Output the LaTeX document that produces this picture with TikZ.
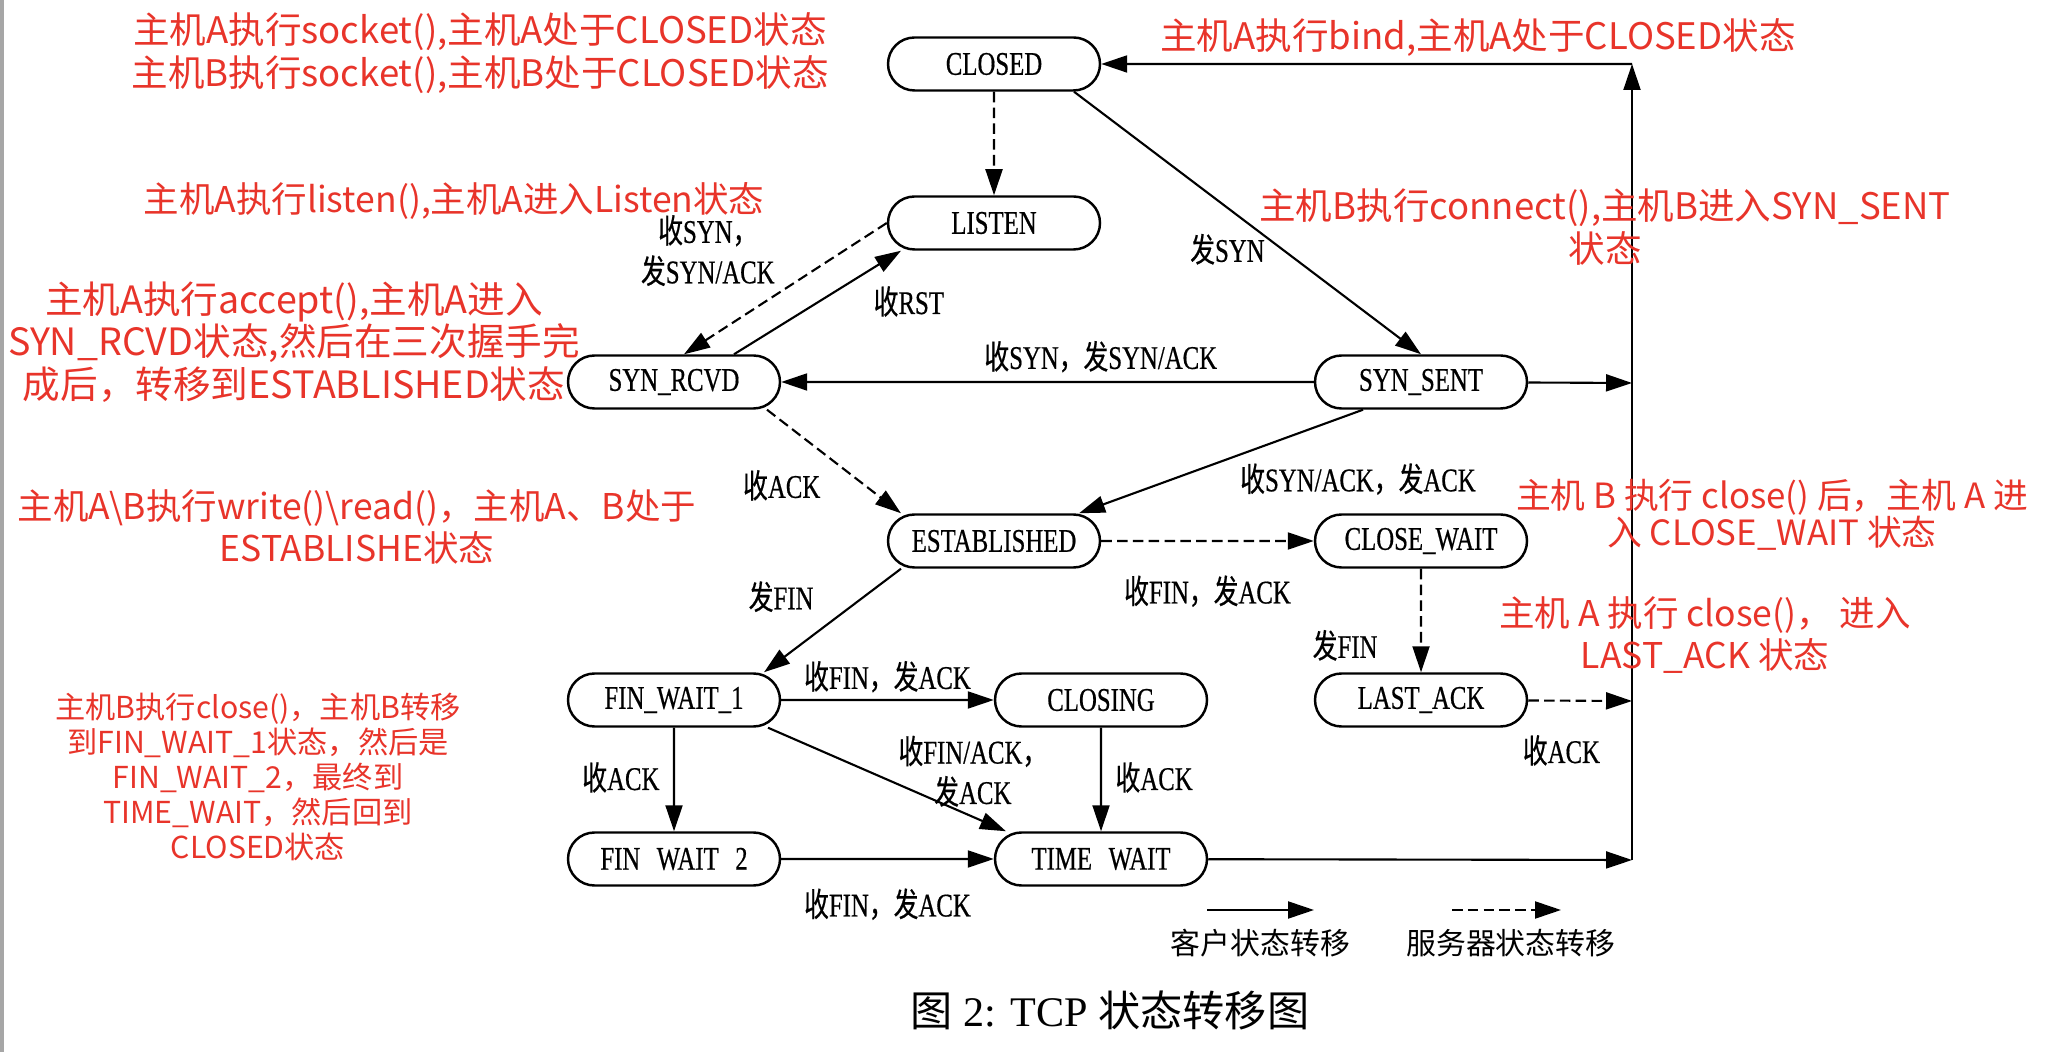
\documentclass[tikz,border=0pt]{standalone}
\usepackage{fontspec}
\setmainfont{Liberation Serif}
\newfontfamily\cjk{Noto Sans CJK SC}
\newfontfamily\lbl[FakeStretch=0.75, FakeBold=0.5]{Liberation Serif}
\newfontfamily\cjklbl[FakeStretch=0.75, FakeBold=0.5]{Noto Sans CJK SC}
\newcommand{\zh}[1]{{\cjklbl #1}}
\usepackage{xcolor}
\definecolor{colorNote}{RGB}{232,52,42}
\colorlet{colorBorder}{gray!70}
\usetikzlibrary{arrows.meta, positioning, shapes.misc}
\tikzset{
  tcpstate/.style={rounded rectangle, draw, line width=0.7pt, minimum width=2.12cm, minimum height=0.53cm, inner sep=0pt, font=\lbl\fontsize{9.4}{11}\selectfont},
  trlabel/.style={font=\lbl\fontsize{9.4}{11.5}\selectfont, align=center, inner sep=1pt},
  annot/.style={text=colorNote, font=\cjk\fontsize{10.4}{12.2}\selectfont, align=center, inner sep=0pt},
  legendtext/.style={font=\cjk\fontsize{8.5}{10}\selectfont, inner sep=1pt},
  srvline/.style={dash pattern=on 3pt off 1.5pt}
}

\begin{document}
\begin{tikzpicture}[>={Triangle[length=2.6mm,width=1.7mm]}, line width=0.6pt, node distance=1.59cm]
\useasboundingbox (0,0) rectangle (20.56,-10.52);
\draw[colorBorder, line width=1pt] (0.02,0) -- (0.02,-10.52);

\node[tcpstate] (closed) at (9.94,-0.64) {CLOSED};
\node[tcpstate, below of=closed] (listen) {LISTEN};
\node[tcpstate, below of=listen, xshift=-3.2cm] (synrcvd) {SYN\_RCVD};
\node[tcpstate, below of=listen, xshift=4.27cm] (synsent) {SYN\_SENT};
\node[tcpstate, below of=synrcvd, xshift=3.2cm] (established) {ESTABLISHED};
\node[tcpstate, below of=synsent] (closewait) {CLOSE\_WAIT};
\node[tcpstate, below of=established, xshift=-3.2cm] (finwait1) {FIN\_WAIT\_1};
\node[tcpstate, below of=established, xshift=1.07cm] (closing) {CLOSING};
\node[tcpstate, below of=closewait] (lastack) {LAST\_ACK};
\node[tcpstate, below of=finwait1] (finwait2) {FIN\hspace{0.5em}WAIT\hspace{0.5em}2};
\node[tcpstate, below of=closing] (timewait) {TIME\hspace{0.5em}WAIT};

\coordinate (rtop) at (16.32,-0.64);
\coordinate (rsyn) at (16.32,-3.83);
\coordinate (rlast) at (16.32,-7.01);
\coordinate (rbot) at (16.32,-8.60);

\draw[->, srvline] (closed) -- (listen);
\draw[->] ([xshift=8mm]closed.south) -- (synsent.north) node[trlabel, pos=0.6, left=1.3mm] (lsyn) {\zh{发}SYN};
\draw[->, srvline] (listen.west) -- ([xshift=1mm]synrcvd.north) node[trlabel, pos=0.21, left=6.5mm] (lsynack) {\zh{收}SYN\zh{，}\\\zh{发}SYN/ACK};
\draw[->] ([xshift=6mm]synrcvd.north) -- ([xshift=-9.3mm]listen.south) node[trlabel, pos=0.51, right=5mm] (lrst) {\zh{收}RST};
\draw[->] (synsent) -- (synrcvd) node[trlabel, pos=0.4, above=0.5mm] (lsynsyn) {\zh{收}SYN\zh{，发}SYN/ACK};
\draw[->, srvline] ([xshift=9.3mm]synrcvd.south) -- ([xshift=-9.3mm]established.north) node[trlabel, pos=0.73, left=4mm] (lack1) {\zh{收}ACK};
\draw[->] ([xshift=-5.8mm]synsent.south) -- ([xshift=8.5mm]established.north) node[trlabel, pos=0.67, right=6.3mm] (lsynack2) {\zh{收}SYN/ACK\zh{，发}ACK};
\draw[->, srvline] (established) -- (closewait) node[trlabel, pos=0.5, below=3mm] (lfin1) {\zh{收}FIN\zh{，发}ACK};
\draw[->] ([xshift=-9.3mm]established.south) -- ([xshift=9mm]finwait1.north) node[trlabel, pos=0.27, left=4.6mm] (lfin2) {\zh{发}FIN};
\draw[->, srvline] (closewait) -- (lastack) node[trlabel, pos=0.74, left=3.9mm] (lfin3) {\zh{发}FIN};
\draw[->] (finwait1) -- (closing) node[trlabel, pos=0.5, above=0.3mm] (lfin4) {\zh{收}FIN\zh{，发}ACK};
\draw[->] (finwait1) -- (finwait2) node[trlabel, pos=0.48, left=1mm] (lack2) {\zh{收}ACK};
\draw[->] ([xshift=9.4mm]finwait1.south) -- ([xshift=-9.5mm]timewait.north) node[trlabel, pos=0.42, right=2.6mm] (lfinack) {\zh{收}FIN/ACK\zh{，}\\\zh{发}ACK};
\draw[->] (closing) -- (timewait) node[trlabel, pos=0.48, right=1mm] (lack3) {\zh{收}ACK};
\draw[->] (finwait2) -- (timewait) node[trlabel, pos=0.5, below=2.5mm] (lfin5) {\zh{收}FIN\zh{，发}ACK};

\draw[->] (synsent) -- (rsyn);
\draw[->, srvline] (lastack) -- (rlast) node[trlabel, pos=0.32, below=3mm] (lack4) {\zh{收}ACK};
\draw[->] (timewait) -- (rbot);
\draw[->] (rbot) -- (rtop);
\draw[->] (rtop) -- (closed);

\coordinate (lgc1) at (12.07,-9.10);
\coordinate (lgc2) at (13.14,-9.10);
\coordinate (lgs1) at (14.52,-9.10);
\coordinate (lgs2) at (15.61,-9.10);
\draw[->] (lgc1) -- (lgc2) node[legendtext, pos=0.5, below=1.5mm] (lgclient) {客户状态转移};
\draw[->, srvline] (lgs1) -- (lgs2) node[legendtext, pos=0.54, below=1.5mm] (lgserver) {服务器状态转移};
\node[font=\fontsize{12}{14}\selectfont] (caption) at (11.10,-10.10) {{\cjk 图} 2: TCP {\cjk 状态转移图}};

\node[annot] (nsocket) at (4.80,-0.535) {主机A执行socket(),主机A处于CLOSED状态\\主机B执行socket(),主机B处于CLOSED状态};
\node[annot] (nbind) at (14.78,-0.38) {主机A执行bind,主机A处于CLOSED状态};
\node[annot, font=\cjk\fontsize{10.1}{12}\selectfont] (nlisten) at (4.54,-2.01) {主机A执行listen(),主机A进入Listen状态};
\node[annot] (nconnect) at (16.05,-2.27) {主机B执行connect(),主机B进入SYN\_SENT\\状态};
\node[annot, font=\cjk\fontsize{10.7}{12.1}\selectfont] (naccept) at (2.94,-3.42) {主机A执行accept(),主机A进入\\SYN\_RCVD状态,然后在三次握手完\\成后，转移到ESTABLISHED状态};
\node[annot, font=\cjk\fontsize{10.1}{12}\selectfont] (nrw) at (3.57,-5.27) {主机A\textbackslash B执行write()\textbackslash read()，主机A、B处于\\ESTABLISHE状态};
\node[annot, font=\cjk\fontsize{9.9}{10.5}\selectfont] (nclosewait) at (17.72,-5.15) {主机 B 执行 close() 后，主机 A 进\\入 CLOSE\_WAIT 状态};
\node[annot, font=\cjk\fontsize{10.1}{11.9}\selectfont] (nlastack) at (17.05,-6.35) {主机 A 执行 close()， 进入\\LAST\_ACK 状态};
\node[annot, font=\cjk\fontsize{8.6}{9.9}\selectfont] (nfinwait) at (2.58,-7.77) {主机B执行close()，主机B转移\\到FIN\_WAIT\_1状态，然后是\\FIN\_WAIT\_2，最终到\\TIME\_WAIT，然后回到\\CLOSED状态};
\end{tikzpicture}
\end{document}
